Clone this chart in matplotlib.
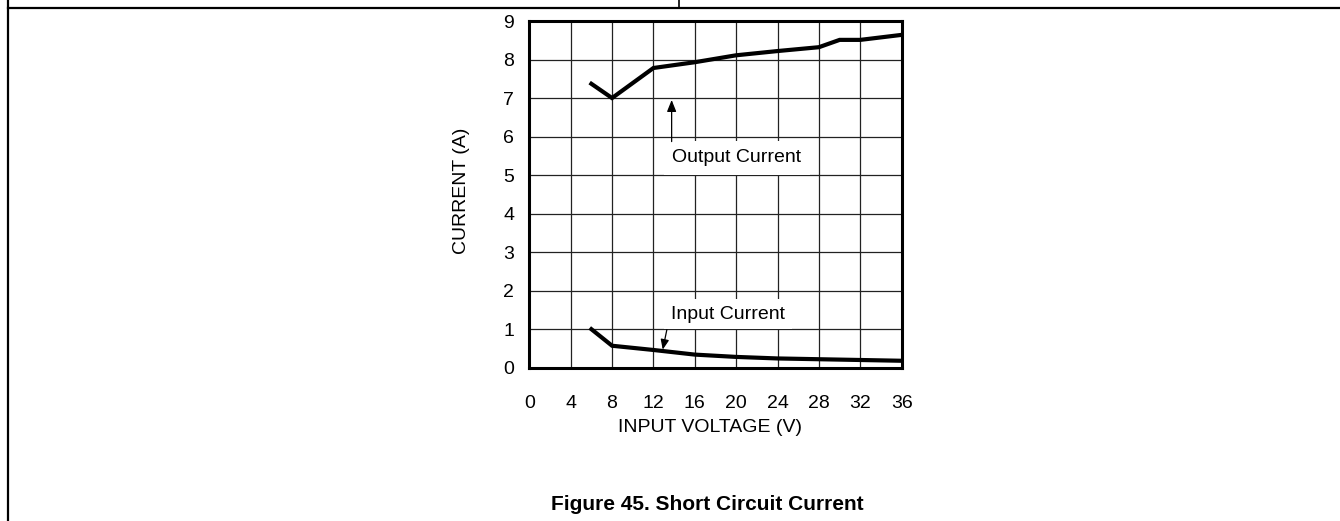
import matplotlib
matplotlib.use("Agg")
import matplotlib.pyplot as plt

plt.rcParams['font.family'] = ['Liberation Sans', 'DejaVu Sans']

# Data
out_v = [6, 8, 12, 16, 20, 24, 28, 30, 32, 36]
out_i = [7.37, 7.0, 7.78, 7.93, 8.11, 8.22, 8.32, 8.51, 8.51, 8.64]
in_v = [6, 8, 12, 16, 20, 24, 28, 32, 36]
in_i = [1.0, 0.57, 0.46, 0.34, 0.28, 0.24, 0.22, 0.20, 0.18]
x_ticks = [0, 4, 8, 12, 16, 20, 24, 28, 32, 36]
y_ticks = [0, 1, 2, 3, 4, 5, 6, 7, 8, 9]

W, H = 1340, 521
fig = plt.figure(figsize=(W / 100, H / 100), dpi=100)

# page frame lines
fig.add_artist(plt.Line2D([8 / W, 1], [1 - 8 / H, 1 - 8 / H], color='black', lw=1.6))
fig.add_artist(plt.Line2D([8 / W, 8 / W], [0, 1], color='black', lw=1.6))
fig.add_artist(plt.Line2D([679 / W, 679 / W], [1 - 8 / H, 1], color='black', lw=1.2))

left, right, top, bottom = 529.3, 901.7, 21.0, 367.7
ax = fig.add_axes([left / W, 1 - bottom / H, (right - left) / W, (bottom - top) / H])
ax.set_xlim(0, 36)
ax.set_ylim(0, 9)
ax.set_xticks(x_ticks)
ax.set_yticks(y_ticks)
ax.set_xticklabels([str(t) for t in x_ticks])
ax.set_yticklabels([str(t) for t in y_ticks])
ax.tick_params(length=0, labelsize=14, pad=20)
ax.tick_params(axis='y', pad=11)
ax.grid(True, color='#222222', lw=0.9)
ax.set_axisbelow(True)
for s in ax.spines.values():
    s.set_linewidth(2.2)
    s.set_zorder(5)

ax.plot(out_v, out_i, color='black', lw=3, solid_joinstyle='miter', zorder=4)
ax.plot(in_v, in_i, color='black', lw=3, solid_joinstyle='miter', zorder=4)

ax.text(20.07, 5.45, 'Output Current', fontsize=14, ha='center', va='center',
        bbox=dict(facecolor='white', edgecolor='none', boxstyle='square,pad=0.45'), zorder=3)
ax.text(19.2, 1.39, 'Input Current', fontsize=14, ha='center', va='center',
        bbox=dict(facecolor='white', edgecolor='none', boxstyle='square,pad=0.35'), zorder=3)

ax.annotate('', xy=(13.76, 6.95), xytext=(13.76, 5.87),
            arrowprops=dict(arrowstyle='-|>,head_length=0.7,head_width=0.28', color='black', lw=0.9,
                            shrinkA=0, shrinkB=0),
            zorder=4)
ax.annotate('', xy=(12.9, 0.47), xytext=(13.3, 0.99),
            arrowprops=dict(arrowstyle='-|>,head_length=0.6,head_width=0.25', color='black', lw=0.9,
                            shrinkA=0, shrinkB=0),
            zorder=4)

fig.text(710 / W, 1 - 428 / H, 'INPUT VOLTAGE (V)', fontsize=14, ha='center', va='center')
fig.text(462 / W, 1 - 191 / H, 'CURRENT (A)', fontsize=14, ha='center', va='center', rotation=90)
fig.text(707 / W, 1 - 505 / H, 'Figure 45. Short Circuit Current', fontsize=15, fontweight='bold',
         ha='center', va='center')

fig.savefig('out.png', dpi=100)
